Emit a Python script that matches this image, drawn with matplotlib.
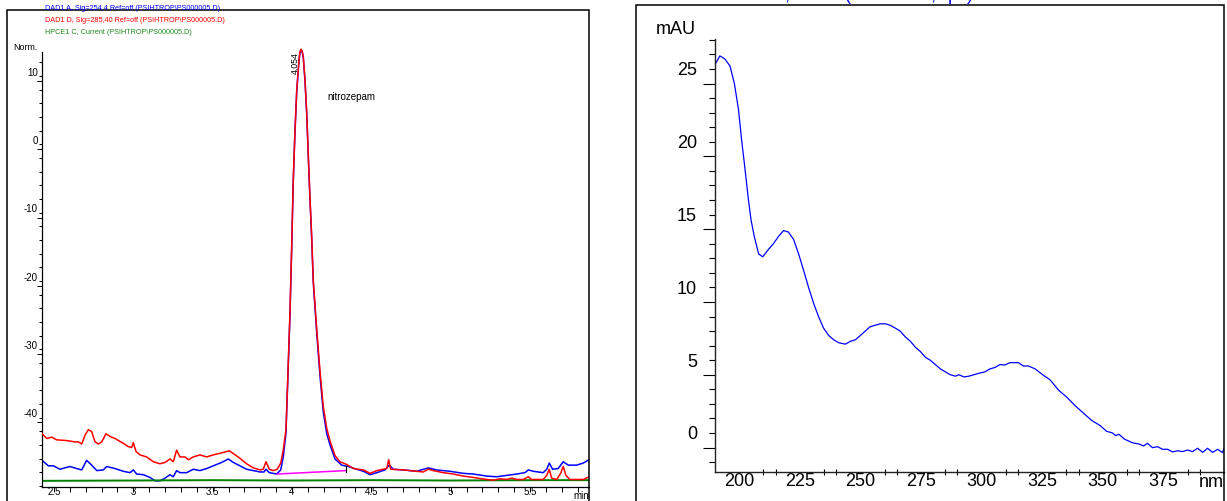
import matplotlib
matplotlib.use("Agg")
import matplotlib.pyplot as plt
import matplotlib.font_manager as fm
from matplotlib.patches import Rectangle
from matplotlib.ticker import FixedLocator, FuncFormatter

# chromatogram (left) - time in min, signal in Norm.
red_time = [2.425, 2.455, 2.486, 2.517, 2.58, 2.633, 2.654, 2.675, 2.696, 2.717, 2.738, 2.759, 2.78,
            2.801, 2.828, 2.853, 2.885, 2.906, 2.937, 2.969, 2.99, 3.0, 3.017, 3.042, 3.084, 3.126,
            3.168, 3.2, 3.231, 3.252, 3.273, 3.294, 3.326, 3.347, 3.378, 3.42, 3.462, 3.504, 3.557,
            3.605, 3.63, 3.672, 3.714, 3.756, 3.798, 3.819, 3.836, 3.857, 3.882, 3.907, 3.929, 3.945,
            3.962, 3.973, 3.987, 3.998, 4.008, 4.019, 4.03, 4.044, 4.05, 4.057, 4.064, 4.071, 4.082,
            4.093, 4.103, 4.113, 4.124, 4.134, 4.156, 4.176, 4.197, 4.219, 4.239, 4.271, 4.302, 4.345,
            4.387, 4.45, 4.492, 4.534, 4.575, 4.597, 4.609, 4.622, 4.701, 4.785, 4.827, 4.859, 4.89,
            4.953, 5.016, 5.079, 5.142, 5.226, 5.269, 5.311, 5.353, 5.384, 5.416, 5.458, 5.489, 5.51,
            5.583, 5.605, 5.621, 5.636, 5.668, 5.693, 5.709, 5.726, 5.751, 5.835, 5.872]
red_signal = [-43.0, -43.7, -43.5, -43.9, -44.0, -44.2, -44.2, -44.5, -43.2, -42.4, -42.7, -44.2, -44.5,
              -44.2, -43.0, -43.4, -43.7, -44.0, -44.4, -44.9, -45.0, -44.3, -45.6, -46.1, -46.4, -47.1,
              -47.4, -47.2, -46.7, -47.1, -45.4, -46.4, -46.4, -46.8, -46.4, -46.1, -46.4, -46.1, -45.8,
              -45.5, -45.9, -46.6, -47.4, -48.0, -48.3, -48.2, -47.1, -48.2, -48.4, -48.2, -47.3, -45.4,
              -42.4, -35.1, -25.4, -15.6, -5.8, 1.5, 7.3, 11.7, 12.9, 13.3, 13.0, 12.2, 8.8,
              3.9, -2.4, -8.3, -14.1, -20.5, -27.8, -33.7, -39.0, -42.2, -44.0, -46.2, -47.1, -47.5,
              -48.1, -48.3, -48.8, -48.4, -48.2, -48.1, -46.8, -48.2, -48.3, -48.5, -48.6, -48.2, -48.4,
              -48.7, -48.9, -49.2, -49.4, -49.7, -49.8, -49.6, -49.7, -49.5, -49.7, -49.7, -49.3, -49.7,
              -49.7, -49.1, -48.2, -49.5, -49.7, -48.8, -47.8, -49.1, -49.7, -49.7, -49.3]

blue_time = [2.425, 2.465, 2.496, 2.538, 2.601, 2.643, 2.675, 2.706, 2.738, 2.77, 2.811, 2.832, 2.885,
             2.937, 2.979, 3.0, 3.021, 3.063, 3.105, 3.137, 3.168, 3.2, 3.231, 3.252, 3.273, 3.294,
             3.336, 3.378, 3.42, 3.462, 3.504, 3.557, 3.599, 3.63, 3.672, 3.714, 3.756, 3.798, 3.824,
             3.836, 3.857, 3.903, 3.929, 3.945, 3.962, 3.973, 3.987, 3.998, 4.008, 4.019, 4.03, 4.044,
             4.05, 4.057, 4.064, 4.071, 4.082, 4.093, 4.103, 4.113, 4.124, 4.134, 4.156, 4.176, 4.197,
             4.219, 4.239, 4.271, 4.313, 4.355, 4.407, 4.45, 4.492, 4.534, 4.586, 4.613, 4.638, 4.701,
             4.785, 4.859, 4.911, 4.995, 5.079, 5.142, 5.226, 5.289, 5.353, 5.416, 5.468, 5.489, 5.52,
             5.583, 5.605, 5.621, 5.642, 5.677, 5.709, 5.741, 5.794, 5.835, 5.872]
blue_signal = [-46.9, -47.7, -47.7, -48.2, -47.8, -48.1, -48.3, -46.9, -47.6, -48.4, -48.3, -47.8, -48.1,
               -48.5, -48.7, -48.3, -48.9, -49.0, -49.4, -49.9, -49.9, -49.5, -49.0, -49.3, -48.4, -48.7,
               -48.7, -48.2, -48.4, -48.1, -47.7, -47.2, -46.7, -47.2, -47.7, -48.2, -48.4, -48.6, -48.6,
               -48.2, -48.7, -48.9, -48.3, -46.4, -42.9, -35.5, -25.8, -16.0, -6.0, 1.3, 7.2, 11.6,
               12.8, 13.2, 12.9, 12.1, 8.6, 3.7, -2.6, -8.5, -14.4, -20.8, -28.3, -34.4, -39.8,
               -43.0, -44.6, -46.7, -47.6, -47.8, -48.2, -48.5, -49.0, -48.7, -48.3, -47.6, -48.2, -48.3,
               -48.5, -48.0, -48.3, -48.5, -48.8, -48.9, -49.2, -49.3, -49.1, -48.9, -48.7, -48.3, -48.5,
               -48.7, -48.2, -47.3, -48.2, -48.1, -47.1, -47.6, -47.6, -47.3, -46.8]

green_time = [2.425, 3.0, 3.5, 4.0, 4.5, 5.0, 5.5, 5.872]
green_signal = [-49.9, -49.85, -49.8, -49.85, -49.8, -49.85, -49.8, -49.8]

baseline_time = [3.907, 4.34]
baseline_signal = [-48.9, -48.4]

peak_rt = 4.054
peak_name = "nitrozepam"

chrom_xticks = [2.5, 3.0, 3.5, 4.0, 4.5, 5.0, 5.5]
chrom_xlabels = ["2.5", "3", "3.5", "4", "4.5", "5", "5.5"]
chrom_yticks = [10, 0, -10, -20, -30, -40]

trace_names = ["DAD1 A, Sig=254,4 Ref=off (PSIHTROP\\PS000005.D)",
               "DAD1 D, Sig=285,40 Ref=off (PSIHTROP\\PS000005.D)",
               "HPCE1 C, Current (PSIHTROP\\PS000005.D)"]

# UV spectrum (right) - wavelength nm, absorbance mAU
spec_nm = [190, 192, 194, 196.2, 198, 199.7, 201, 202.4, 203.8, 204.9, 206.2, 208, 209.7, 212, 214.1,
           216.2, 218.3, 220.3, 222.4, 224.5, 226.5, 228.6, 230.7, 232.7, 234.8, 236.9, 239, 241,
           243.8, 245.9, 247.9, 250, 252, 254, 256.1, 258.2, 260.2, 262.3, 264.4, 266.4, 268.5,
           270.6, 272.6, 274.7, 276.8, 278.8, 280.9, 283, 285, 287.1, 289.2, 290.6, 292.7, 294.7,
           296.8, 298.8, 301.4, 303.4, 305.5, 307.6, 309.6, 311.7, 315.2, 317.2, 319.3, 322.1,
           324.8, 328.3, 331.7, 335.2, 338.6, 342.1, 345.5, 349, 351.5, 354, 355.3, 356.7, 358.8,
           362.2, 365, 366.8, 368.4, 370.5, 372.6, 374.6, 376.7, 378.8, 380.8, 382.9, 385, 387,
           389.1, 391.2, 393.2, 395.3, 397.4, 399.4, 400]
spec_mau = [25.3, 25.9, 25.7, 25.2, 24.0, 22.2, 20.1, 18.1, 16.0, 14.6, 13.5, 12.3, 12.1, 12.6, 13.0,
            13.5, 13.9, 13.8, 13.3, 12.3, 11.2, 10.0, 8.9, 8.0, 7.2, 6.7, 6.4, 6.2,
            6.1, 6.3, 6.4, 6.7, 7.0, 7.3, 7.4, 7.5, 7.5, 7.4, 7.2, 7.0, 6.6,
            6.3, 5.9, 5.6, 5.2, 5.0, 4.7, 4.4, 4.2, 4.0, 3.9, 4.0, 3.85, 3.9,
            4.0, 4.1, 4.2, 4.4, 4.5, 4.7, 4.67, 4.83, 4.83, 4.6, 4.6, 4.4,
            4.05, 3.64, 2.95, 2.45, 1.87, 1.35, 0.85, 0.5, 0.12, 0.0, -0.18, -0.09, -0.41,
            -0.67, -0.76, -0.89, -0.71, -1.01, -0.94, -1.12, -1.12, -1.3, -1.22, -1.28, -1.17, -1.28,
            -1.05, -1.33, -1.05, -1.33, -1.12, -1.35, -1.05]

spec_xticks = [200, 225, 250, 275, 300, 325, 350, 375]
spec_title = "*DAD1, 4.054 (26.2 mAU,Apx) Ref=3.907 & 4.340 of PS000005.D"

names = {f.name for f in fm.fontManager.ttflist}
narrow = "Liberation Sans Narrow" if "Liberation Sans Narrow" in names else "Liberation Sans"
sm = 1.0 if narrow == "Liberation Sans Narrow" else 0.8
plt.rcParams["font.family"] = ["Liberation Sans", "DejaVu Sans"]
plt.rcParams["axes.unicode_minus"] = False

W, H = 1227, 501
fig = plt.figure(figsize=(W / 100, H / 100), dpi=100)


def box(l, t, r, b):
    return [l / W, 1 - b / H, (r - l) / W, (b - t) / H]


def fx(px):
    return px / W


def fy(py):
    return 1 - py / H


# ---- left: chromatogram
ax1 = fig.add_axes(box(42, 40, 589, 487))
ax1.plot(red_time, red_signal, color="#ff0000", lw=1.1, zorder=3)
ax1.plot(blue_time, blue_signal, color="#0000ff", lw=1.1, zorder=2)
ax1.plot(green_time, green_signal, color="#008000", lw=1.4, zorder=2)
ax1.plot(baseline_time, baseline_signal, color="#ff00ff", lw=1.1, zorder=4)
ax1.plot([baseline_time[-1]] * 2, [baseline_signal[-1] - 0.2, baseline_signal[-1] + 0.7],
         color="black", lw=0.8, zorder=4)
ax1.set_xlim(2.4247, 5.8715)
ax1.set_ylim(-50.8, 14.64)
for s in ["top", "right"]:
    ax1.spines[s].set_visible(False)
for s in ["left", "bottom"]:
    ax1.spines[s].set_linewidth(0.9)
ax1.spines["left"].set_bounds(-50.8, 12.9)

ax1.set_xticks(chrom_xticks)
ax1.set_xticklabels(chrom_xlabels)
ax1.xaxis.set_minor_locator(FixedLocator([round(2.5 + 0.1 * i, 2) for i in range(34)]))
ax1.tick_params(axis="x", which="both", direction="out", length=3.5, width=0.7, pad=-3.3,
                labelsize=8.8 * sm)
ax1.set_yticks(chrom_yticks)
ax1.yaxis.set_minor_locator(FixedLocator([-50.65 + 2 * i for i in range(32)]))
ax1.tick_params(axis="y", which="major", length=0, pad=3, labelsize=8.8 * sm)
ax1.tick_params(axis="y", which="minor", length=2.2, width=0.7)
for lbl in ax1.get_xticklabels() + ax1.get_yticklabels():
    lbl.set_family(narrow)
sec = ax1.secondary_yaxis("left")
sec.set_yticks([v - 1.35 for v in chrom_yticks] + [-51.35 + 60])
sec.tick_params(length=3.8, width=0.7, labelleft=False)
sec.spines["left"].set_visible(False)

ax1.text(1.0, -0.008, "min", transform=ax1.transAxes, ha="right", va="top",
         fontsize=8.8 * sm, family=narrow)
fig.text(fx(38), fy(47), "Norm.", ha="right", va="center", fontsize=8 * sm, family=narrow)
ax1.text(peak_rt - 0.035, 11.3, f"{peak_rt:.3f}", rotation=90, ha="center", va="center",
         fontsize=6.3)
ax1.text(4.22, 6.3, peak_name, ha="left", va="center", fontsize=8.8 * sm, family=narrow)

for name, col, base in zip(trace_names, ["#0000ff", "#ff0000", "#1e8c1e"], [10, 22, 34]):
    fig.text(fx(45), fy(base), name, color=col, ha="left", va="baseline",
             fontsize=6.5 * sm, family=narrow)

fig.add_artist(Rectangle((fx(7), -0.1), fx(589 - 7), 1.1 - 10 / H, transform=fig.transFigure,
                         fill=False, ec="black", lw=1.1))

# ---- right: UV spectrum
ax2 = fig.add_axes(box(715, 39, 1224, 472))
ax2.plot(spec_nm, spec_mau, color="#0000ff", lw=0.9)
ax2.set_xlim(190, 400)
ax2.set_ylim(-2.68, 27.06)
for s in ["top", "right"]:
    ax2.spines[s].set_visible(False)
for s in ["left", "bottom"]:
    ax2.spines[s].set_linewidth(1.0)
    ax2.spines[s].set_color("#222222")

ax2.set_xticks(spec_xticks)
ax2.xaxis.set_minor_locator(FixedLocator([v + d for v in range(175, 400, 25) for d in (10, 15)
                                          if 190 < v + d < 400]))
ax2.tick_params(axis="x", which="major", length=0, pad=0.5, labelsize=13)
ax2.tick_params(axis="x", which="minor", direction="inout", length=4, width=0.8)
long_ticks = [v - 1 for v in range(0, 30, 5)]
ax2.yaxis.set_major_locator(FixedLocator([v for v in range(-2, 28) if v not in long_ticks]))
ax2.yaxis.set_major_formatter(FuncFormatter(lambda v, p: f"{v:.0f}" if round(v) % 5 == 0 else ""))
ax2.yaxis.set_minor_locator(FixedLocator(long_ticks))
ax2.tick_params(axis="y", which="major", length=4.3, width=0.8, pad=8.6, labelsize=13)
ax2.tick_params(axis="y", which="minor", length=8.6, width=0.8)

ax2.text(1.0, -0.005, "nm", transform=ax2.transAxes, ha="right", va="top", fontsize=13)
fig.text(fx(676), fy(30), "mAU", ha="center", va="center", fontsize=13)
# title of the spectrum sits above the picture edge, only descenders show
fig.text(fx(730), fy(0.5), spec_title, color="#0000ff", ha="left", va="baseline", fontsize=13)

fig.add_artist(Rectangle((fx(636), -0.1), fx(1224 - 636), 1.1 - 5 / H, transform=fig.transFigure,
                         fill=False, ec="black", lw=1.1))

fig.savefig("out.png", dpi=100)
